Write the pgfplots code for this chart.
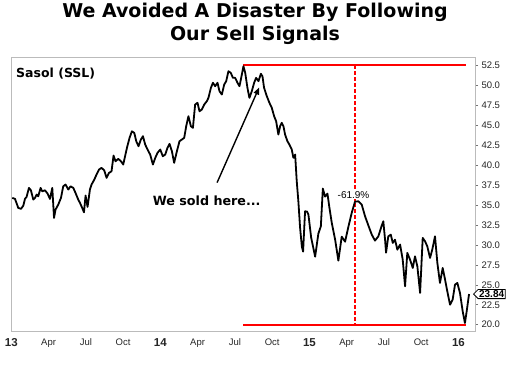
\documentclass[border=0pt]{standalone}
\usepackage{fontspec}
\setmainfont{Liberation Sans}
\newfontfamily\dejavu{DejaVu Sans}
\usepackage{pgfplots}
\pgfplotsset{compat=1.18}
\usetikzlibrary{arrows.meta,shapes.symbols}
\definecolor{framegray}{HTML}{BBBBBB}
\newcommand{\yr}[1]{{\bfseries\fontsize{11.5}{12}\selectfont #1}}
\pgfplotstableread{
m p
0.08 35.90
0.30 35.77
0.56 34.64
0.78 34.52
0.97 34.93
1.10 35.77
1.23 36.02
1.42 37.15
1.58 36.85
1.77 35.68
1.91 35.90
2.04 36.31
2.17 36.10
2.36 37.15
2.49 36.72
2.71 36.85
2.92 36.44
3.11 35.77
3.30 37.15
3.44 33.39
3.56 34.43
3.78 35.06
4.00 35.90
4.18 37.35
4.37 37.57
4.59 36.94
4.77 37.35
4.99 37.15
5.17 36.52
5.39 35.68
5.53 35.27
5.71 34.64
5.85 34.09
5.98 36.19
6.14 34.77
6.33 36.94
6.46 37.57
6.68 38.19
6.86 38.82
7.06 39.45
7.26 39.66
7.48 39.36
7.67 38.41
7.86 39.03
8.07 39.23
8.23 41.20
8.39 40.49
8.61 40.79
8.83 40.49
9.01 40.08
9.31 42.17
9.52 43.43
9.71 44.25
9.90 44.05
10.06 43.00
10.24 42.37
10.43 43.21
10.60 43.63
10.78 42.58
10.97 41.96
11.18 41.33
11.40 40.08
11.59 40.92
11.77 41.54
11.99 41.96
12.20 41.12
12.39 41.33
12.57 42.17
12.74 42.67
12.93 41.74
13.11 40.29
13.33 41.74
13.54 43.00
13.73 43.21
13.92 43.43
14.08 44.88
14.26 46.14
14.46 44.88
14.62 44.68
14.80 47.60
14.99 47.82
15.15 46.76
15.34 46.98
15.53 47.60
15.74 48.02
15.87 48.44
16.07 49.70
16.23 50.33
16.41 49.90
16.60 50.33
16.76 49.27
16.95 48.86
17.14 50.11
17.30 50.53
17.48 51.78
17.67 51.58
17.84 50.95
18.02 50.95
18.21 50.33
18.37 49.90
18.56 51.37
18.69 52.41
18.83 51.58
19.01 49.70
19.17 48.44
19.36 49.27
19.55 50.33
19.71 50.95
19.90 50.53
20.09 51.46
20.22 51.15
20.35 49.70
20.57 48.65
20.78 47.82
20.97 47.19
21.16 46.14
21.32 45.51
21.50 43.84
21.64 44.88
21.77 45.31
21.91 44.88
22.04 43.84
22.23 43.00
22.39 42.58
22.58 41.96
22.71 40.92
22.85 41.33
22.98 37.98
23.11 35.47
23.25 32.13
23.39 29.82
23.49 29.16
23.65 34.22
23.81 34.18
23.92 33.80
24.14 30.92
24.46 28.53
24.72 31.42
24.92 32.33
25.08 37.06
25.26 36.06
25.45 36.44
25.61 34.68
25.80 32.76
26.07 30.66
26.33 28.03
26.60 31.04
26.87 30.41
27.14 32.30
27.41 34.05
27.67 35.43
27.94 35.47
28.21 35.06
28.48 33.59
28.75 32.42
29.02 31.29
29.28 30.54
29.55 31.08
29.82 32.42
29.95 32.96
30.09 30.66
30.17 29.03
30.35 31.08
30.55 31.29
30.71 30.25
30.89 30.66
31.08 29.41
31.30 30.04
31.51 28.16
31.70 24.81
31.88 29.00
32.10 28.16
32.32 27.11
32.50 28.57
32.69 27.31
32.91 23.98
33.12 30.88
33.31 30.45
33.49 29.82
33.71 28.37
33.89 29.41
34.11 31.08
34.30 27.74
34.51 25.23
34.73 27.11
34.92 25.65
35.10 24.18
35.32 22.51
35.53 23.14
35.72 25.02
35.91 25.23
36.12 23.98
36.34 21.67
36.52 20.21
36.66 21.67
36.85 23.84
}\ssl
\begin{document}
\begin{tikzpicture}
\path[use as bounding box] (0pt,0pt) rectangle (511pt,376pt);
\node[font=\dejavu\bfseries\fontsize{19}{23}\selectfont, anchor=base, inner sep=0pt] at (255pt,359pt) {We Avoided A Disaster By Following};
\node[font=\dejavu\bfseries\fontsize{19}{23}\selectfont, anchor=base, inner sep=0pt] at (255pt,336pt) {Our Sell Signals};
\begin{axis}[
  at={(11.3pt,44.3pt)}, anchor=south west,
  scale only axis, width=463.7pt, height=274.2pt,
  xmin=0, xmax=37.33, ymin=19.12, ymax=53.5,
  clip=false,
  axis line style={framegray, line width=0.8pt},
  xtick={0,3,6,9,12,15,18,21,24,27,30,33,36},
  xticklabels={\yr{13},Apr,Jul,Oct,\yr{14},Apr,Jul,Oct,\yr{15},Apr,Jul,Oct,\yr{16}},
  xtick style={draw=none},
  xticklabel style={font=\fontsize{9.5}{11}\selectfont, text=black!85, yshift=-0.5pt},
  ytick={20,22.5,25,27.5,30,32.5,35,37.5,40,42.5,45,47.5,50,52.5},
  ytick pos=right, yticklabel pos=right,
  tick align=outside, major tick length=3pt,
  ytick style={black!55, line width=0.6pt},
  yticklabel style={font=\fontsize{9.5}{11}\selectfont, text=black!85, /pgf/number format/.cd, fixed, fixed zerofill, precision=1, assume math mode=true},
]
\addplot[red, line width=2pt] coordinates {(18.66,52.5) (36.6,52.5)};
\addplot[red, line width=2pt] coordinates {(18.66,20) (36.6,20)};
\addplot[red, line width=2pt, dash pattern=on 4pt off 2pt] coordinates {(27.67,52.5) (27.67,20)};
\addplot[black, line width=1.8pt, line join=round] table[x=m, y=p] {\ssl};
\node[font=\dejavu\bfseries\fontsize{12.5}{14}\selectfont, anchor=base west, inner sep=0pt] at (axis cs:0.38,50.95) {Sasol (SSL)};
\node[font=\dejavu\bfseries\fontsize{12.7}{14}\selectfont, anchor=base, inner sep=0pt] at (axis cs:15.73,34.93) {We sold here...};
\draw[black, line width=1.4pt, -{Triangle[length=7pt,width=5.5pt]}] (axis cs:16.57,37.82) -- (axis cs:19.95,49.74);
\node[fill=white, inner sep=0.8pt, anchor=base, font=\fontsize{10}{12}\selectfont] at (axis cs:27.55,35.87) {-61.9\%};
\node[signal, signal to=west, draw=black, fill=white, line width=0.8pt, inner sep=1pt, font=\bfseries\fontsize{10}{11}\selectfont, anchor=west] at (axis cs:37.17,23.84) {23.84};
\end{axis}
\end{tikzpicture}
\end{document}
